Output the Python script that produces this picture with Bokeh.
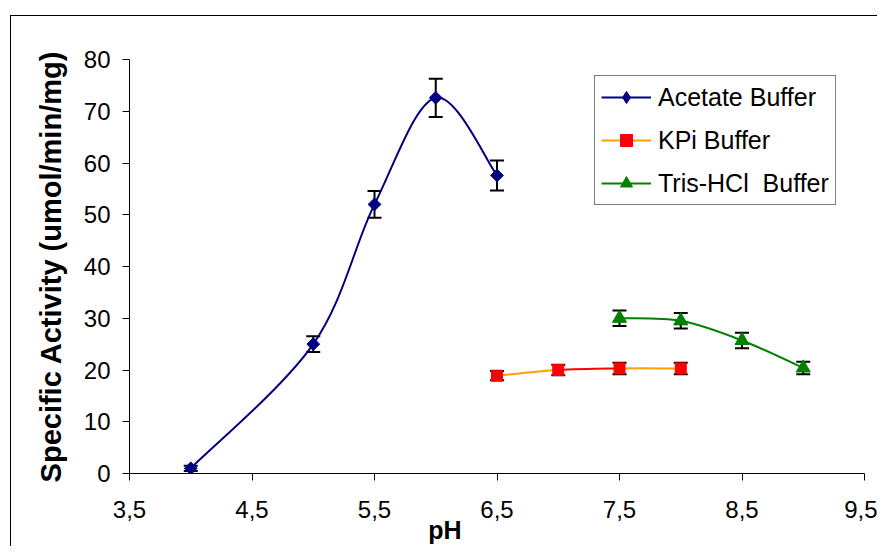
import numpy as np
from bokeh.plotting import figure
from bokeh.models import (ColumnDataSource, Whisker, TeeHead, FixedTicker, Legend,
                          LegendItem, Range1d)
from bokeh.embed import file_html
from bokeh.resources import INLINE

# ---- data ----
acetate_ph = [4.0, 5.0, 5.5, 6.0, 6.5]
acetate_act = [1.0, 25.0, 52.0, 72.6, 57.6]
acetate_err = [0.5, 1.5, 2.6, 3.7, 2.9]

kpi_ph = [6.5, 7.0, 7.5, 8.0]
kpi_act = [18.9, 20.0, 20.3, 20.3]
kpi_err = [0.9, 1.0, 1.1, 1.1]
kpi_seg_colors = ["#FFA000", "#FF0000", "#FFA000"]

tris_ph = [7.5, 8.0, 8.5, 9.0]
tris_act = [30.0, 29.5, 25.7, 20.4]
tris_err = [1.5, 1.5, 1.5, 1.2]

x_ticks = [3.5, 4.5, 5.5, 6.5, 7.5, 8.5, 9.5]
x_tick_labels = ["3,5", "4,5", "5,5", "6,5", "7,5", "8,5", "9,5"]
y_ticks = [0, 10, 20, 30, 40, 50, 60, 70, 80]

FONT = "Liberation Sans"
NBSP = "\u00a0"


def smooth_segments(xs, ys):
    """Bezier control points (Catmull-Rom style, like a spreadsheet 'smoothed line')."""
    x = np.asarray(xs, float)
    y = np.asarray(ys, float)
    n = len(x)
    xp = np.concatenate([[x[0]], x, [x[-1]]])
    yp = np.concatenate([[y[0]], y, [y[-1]]])
    return dict(
        x0=x[:-1], y0=y[:-1], x1=x[1:], y1=y[1:],
        cx0=x[:-1] + (xp[2:n + 1] - xp[0:n - 1]) / 6.0,
        cy0=y[:-1] + (yp[2:n + 1] - yp[0:n - 1]) / 6.0,
        cx1=x[1:] - (xp[3:n + 2] - xp[1:n]) / 6.0,
        cy1=y[1:] - (yp[3:n + 2] - yp[1:n]) / 6.0,
    )


p = figure(width=877, height=546, output_backend="svg", toolbar_location=None,
           x_range=Range1d(3.5, 9.5), y_range=Range1d(0, 80),
           min_border_left=129, min_border_right=13, min_border_top=59, min_border_bottom=73)
p.outline_line_color = None
p.xgrid.visible = False
p.ygrid.visible = False
p.background_fill_color = "white"
p.border_fill_color = None
# outer chart border (top and left edges visible; right/bottom lie outside the window)
p.styles = {
    "background-image": "linear-gradient(black, black), linear-gradient(black, black)",
    "background-size": "1px 100%, 100% 1px",
    "background-position": "10px 15px, 10px 15px",
    "background-repeat": "no-repeat",
}

for ax in (p.xaxis[0], p.yaxis[0]):
    ax.axis_line_color = "black"
    ax.axis_line_width = 1
    ax.major_tick_line_color = "black"
    ax.major_tick_out = 7
    ax.major_tick_in = 0
    ax.minor_tick_line_color = None
    ax.major_label_text_font = FONT
    ax.major_label_text_font_size = "24px"
    ax.major_label_text_color = "black"

p.xaxis.ticker = FixedTicker(ticks=x_ticks)
p.xaxis.major_label_overrides = {t: l for t, l in zip(x_ticks, x_tick_labels)}
p.xaxis.major_label_standoff = 20
p.xaxis.axis_label = "pH" + NBSP * 15
p.xaxis.axis_label_text_font = FONT
p.xaxis.axis_label_text_font_style = "bold"
p.xaxis.axis_label_text_font_size = "25px"
p.xaxis.axis_label_text_color = "black"
p.xaxis.axis_label_standoff = -5

p.yaxis.ticker = FixedTicker(ticks=y_ticks)
p.yaxis.major_label_standoff = 12
p.yaxis.axis_label = "Specific Activity (umol/min/mg)"
p.yaxis.axis_label_text_font = FONT
p.yaxis.axis_label_text_font_style = "bold"
p.yaxis.axis_label_text_font_size = "29px"
p.yaxis.axis_label_text_color = "black"
p.yaxis.axis_label_standoff = 14

# ---- series ----
ac = smooth_segments(acetate_ph, acetate_act)
r_ac_line = p.bezier(source=ColumnDataSource(ac), x0="x0", y0="y0", x1="x1", y1="y1",
                     cx0="cx0", cy0="cy0", cx1="cx1", cy1="cy1", line_color="#000080", line_width=2)
kp = smooth_segments(kpi_ph, kpi_act)
kp["color"] = kpi_seg_colors
r_kp_line = p.bezier(source=ColumnDataSource(kp), x0="x0", y0="y0", x1="x1", y1="y1",
                     cx0="cx0", cy0="cy0", cx1="cx1", cy1="cy1", line_color="color", line_width=2)
tr = smooth_segments(tris_ph, tris_act)
r_tr_line = p.bezier(source=ColumnDataSource(tr), x0="x0", y0="y0", x1="x1", y1="y1",
                     cx0="cx0", cy0="cy0", cx1="cx1", cy1="cy1", line_color="#008000", line_width=2)

r_ac_pts = p.scatter(acetate_ph, acetate_act, marker="square", angle=np.pi / 4, size=9,
                     fill_color="#000080", line_color="#000080")
# legend-only diamond glyph (legend markers ignore angle)
r_ac_leg = p.scatter(acetate_ph, acetate_act, marker="diamond", size=12,
                     fill_color="#000080", line_color="#000080", visible=False)
r_kp_pts = p.scatter(kpi_ph, kpi_act, marker="square", size=11,
                     fill_color="#FF0000", line_color="#FF0000")
r_tr_pts = p.scatter(tris_ph, tris_act, marker="triangle", size=14,
                     fill_color="#008000", line_color="#008000")

for xs, ys, es in ((acetate_ph, acetate_act, acetate_err),
                   (kpi_ph, kpi_act, kpi_err),
                   (tris_ph, tris_act, tris_err)):
    src = ColumnDataSource(dict(x=xs, upper=[a + e for a, e in zip(ys, es)],
                                lower=[a - e for a, e in zip(ys, es)]))
    w = Whisker(source=src, base="x", upper="upper", lower="lower", dimension="height",
                line_color="black", line_width=2,
                upper_head=TeeHead(size=14, line_color="black", line_width=2),
                lower_head=TeeHead(size=14, line_color="black", line_width=2))
    p.add_layout(w)

legend = Legend(items=[
    LegendItem(label="Acetate Buffer", renderers=[r_ac_line, r_ac_leg], index=0),
    LegendItem(label="KPi Buffer", renderers=[r_kp_line, r_kp_pts], index=0),
    LegendItem(label="Tris-HCl  Buffer", renderers=[r_tr_line, r_tr_pts], index=0),
], location=(465, 268))
legend.label_text_font = FONT
legend.label_text_font_size = "25px"
legend.label_text_color = "black"
legend.border_line_color = "black"
legend.border_line_width = 1
legend.background_fill_color = "white"
legend.padding = 6
legend.spacing = 13
legend.label_height = 30
legend.glyph_height = 30
legend.glyph_width = 50
legend.label_standoff = 7
legend.margin = 0
p.add_layout(legend)

open("out.html", "w").write(file_html(p, INLINE))
